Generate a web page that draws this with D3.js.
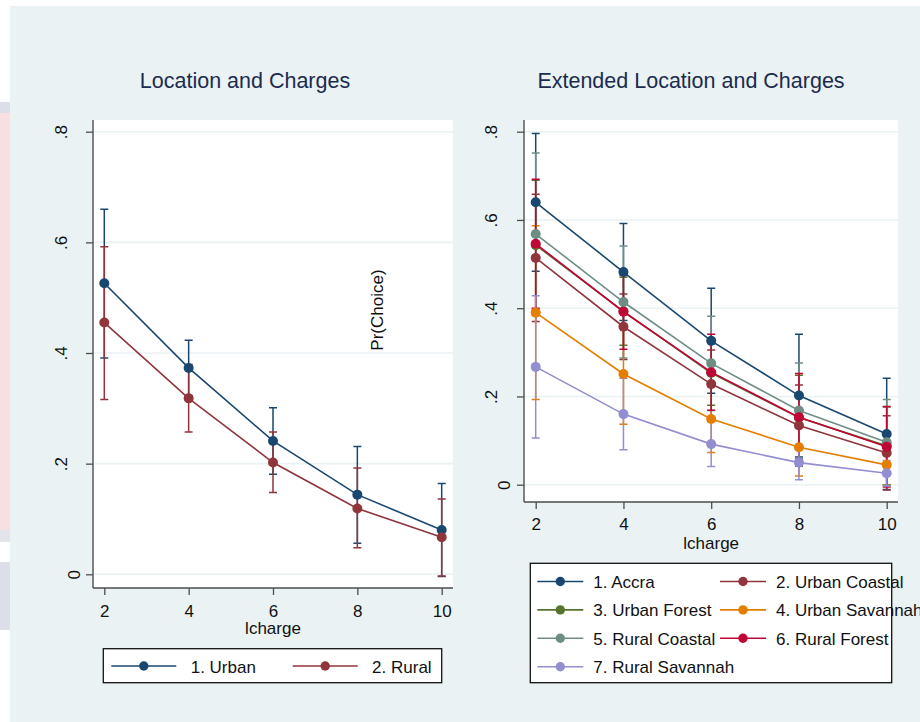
<!DOCTYPE html>
<html>
<head>
<meta charset="utf-8">
<script src="https://cdn.jsdelivr.net/npm/d3@7"></script>
<style>
  body { margin: 0; background: #fff; }
  svg { display: block; font-family: "Liberation Sans", Arial, sans-serif; }
</style>
</head>
<body>
<svg id="chart" width="920" height="722"></svg>
<script>
// x values (lcharge) shared by both panels
const charges = [2, 4, 6, 8, 10];
const yTicks = [0, 0.2, 0.4, 0.6, 0.8];
const yTickLabels = ['0', '.2', '.4', '.6', '.8'];

// Left panel: Location and Charges
const locNames = ['1. Urban', '2. Rural'];
const urbanMean = [0.526, 0.373, 0.241, 0.144, 0.080];
const urbanLo   = [0.391, 0.323, 0.181, 0.056, -0.004];
const urbanHi   = [0.660, 0.423, 0.301, 0.231, 0.164];
const ruralMean = [0.455, 0.318, 0.202, 0.119, 0.067];
const ruralLo   = [0.316, 0.257, 0.148, 0.048, -0.003];
const ruralHi   = [0.592, 0.379, 0.257, 0.192, 0.136];

// Right panel: Extended Location and Charges
const extNames = ['1. Accra', '2. Urban Coastal', '3. Urban Forest', '4. Urban Savannah',
                  '5. Rural Coastal', '6. Rural Forest', '7. Rural Savannah'];
const accraMean = [0.640, 0.482, 0.326, 0.202, 0.115];
const accraLo   = [0.484, 0.372, 0.207, 0.063, -0.011];
const accraHi   = [0.796, 0.592, 0.445, 0.341, 0.241];
const urbCoastMean = [0.514, 0.358, 0.228, 0.134, 0.072];
const urbCoastLo   = [0.370, 0.284, 0.151, 0.042, -0.012];
const urbCoastHi   = [0.658, 0.432, 0.305, 0.226, 0.156];
const urbForestMean = [0.543, 0.393, 0.253, 0.152, 0.088];
const urbForestLo   = [0.398, 0.316, 0.180, 0.056, 0.000];
const urbForestHi   = [0.690, 0.470, 0.326, 0.248, 0.176];
const urbSavMean = [0.390, 0.251, 0.149, 0.085, 0.045];
const urbSavLo   = [0.193, 0.137, 0.073, 0.020, 0.000];
const urbSavHi   = [0.587, 0.365, 0.225, 0.150, 0.090];
const rurCoastMean = [0.568, 0.414, 0.275, 0.168, 0.096];
const rurCoastLo   = [0.384, 0.287, 0.168, 0.060, -0.001];
const rurCoastHi   = [0.752, 0.541, 0.382, 0.276, 0.193];
const rurForestMean = [0.546, 0.392, 0.255, 0.153, 0.086];
const rurForestLo   = [0.400, 0.307, 0.169, 0.054, -0.005];
const rurForestHi   = [0.692, 0.474, 0.341, 0.252, 0.177];
const rurSavMean = [0.267, 0.160, 0.092, 0.050, 0.026];
const rurSavLo   = [0.106, 0.079, 0.041, 0.011, -0.003];
const rurSavHi   = [0.428, 0.241, 0.143, 0.089, 0.055];

// Stata s2color palette
const COLORS = ['#1a476f', '#90353b', '#55752f', '#e37e00', '#6e8e84', '#c10534', '#938dd2'];
const BG = '#eaf2f3';
const AXIS = '#4d4d4d';
const TITLE = '#1c2c50';

function makeSeries(names, means, los, his) {
  return names.map((name, i) => ({
    name,
    color: COLORS[i],
    points: charges.map((x, j) => ({ x, y: means[i][j], lo: los[i][j], hi: his[i][j] }))
  }));
}

const leftData = makeSeries(locNames,
  [urbanMean, ruralMean], [urbanLo, ruralLo], [urbanHi, ruralHi]);
const rightData = makeSeries(extNames,
  [accraMean, urbCoastMean, urbForestMean, urbSavMean, rurCoastMean, rurForestMean, rurSavMean],
  [accraLo, urbCoastLo, urbForestLo, urbSavLo, rurCoastLo, rurForestLo, rurSavLo],
  [accraHi, urbCoastHi, urbForestHi, urbSavHi, rurCoastHi, rurForestHi, rurSavHi]);

const svg = d3.select('#chart');

// screenshot edge leftovers + graph background
svg.append('rect').attr('x', 0).attr('y', 102).attr('width', 10).attr('height', 11).attr('fill', '#dcdfe8');
svg.append('rect').attr('x', 0).attr('y', 113).attr('width', 10).attr('height', 417).attr('fill', '#f8dfe1');
svg.append('rect').attr('x', 0).attr('y', 530).attr('width', 10).attr('height', 12).attr('fill', '#e3e4ea');
svg.append('rect').attr('x', 0).attr('y', 562).attr('width', 10).attr('height', 68).attr('fill', '#dcdfe8');
svg.append('rect').attr('x', 10).attr('y', 6).attr('width', 910).attr('height', 716).attr('fill', BG);

function drawPanel(cfg) {
  const g = svg.append('g');
  const { box } = cfg;
  const x = d3.scaleLinear().domain([2, 10]).range(cfg.xRange);
  const y = d3.scaleLinear().domain([0, 0.8]).range(cfg.yRange);

  // title
  g.append('text')
    .attr('x', cfg.titleX).attr('y', 88)
    .attr('text-anchor', 'middle')
    .attr('font-size', 21.5)
    .attr('fill', TITLE)
    .text(cfg.title);

  // plot region
  g.append('rect')
    .attr('x', box.left).attr('y', box.top)
    .attr('width', box.right - box.left).attr('height', box.bottom - box.top)
    .attr('fill', '#fff');

  // grid
  g.append('g').selectAll('line').data(yTicks).join('line')
    .attr('x1', box.left).attr('x2', box.right)
    .attr('y1', d => y(d)).attr('y2', d => y(d))
    .attr('stroke', BG).attr('stroke-width', 1.6);

  // y axis, vertical labels like Stata
  const yAxis = g.append('g')
    .attr('transform', `translate(${box.left},0)`)
    .call(d3.axisLeft(y).tickValues(yTicks).tickSize(7).tickFormat((d, i) => yTickLabels[i]));
  yAxis.select('.domain').remove();
  yAxis.selectAll('.tick line').attr('stroke', AXIS).attr('stroke-width', 1.3);
  yAxis.selectAll('.tick text')
    .attr('font-size', 17).attr('fill', '#111')
    .attr('font-family', '"Liberation Sans", Arial, sans-serif')
    .attr('text-anchor', 'middle')
    .attr('dy', null).attr('x', null)
    .attr('transform', (d, i) => {
      const lx = (yTickLabels[i] === '0' ? cfg.yLabelX0 : cfg.yLabelX) - box.left;
      return `translate(${lx},0) rotate(-90)`;
    });
  g.append('line')
    .attr('x1', box.left).attr('x2', box.left)
    .attr('y1', box.top).attr('y2', box.bottom)
    .attr('stroke', AXIS).attr('stroke-width', 1.4);

  // x axis
  const xAxis = g.append('g')
    .attr('transform', `translate(0,${box.bottom})`)
    .call(d3.axisBottom(x).tickValues(charges).tickSize(7).tickFormat(d3.format('d')));
  xAxis.select('.domain').remove();
  xAxis.selectAll('.tick line').attr('stroke', AXIS).attr('stroke-width', 1.3);
  xAxis.selectAll('.tick text')
    .attr('font-size', 17).attr('fill', '#111')
    .attr('font-family', '"Liberation Sans", Arial, sans-serif')
    .attr('dy', null).attr('y', cfg.xLabelBase - box.bottom);
  g.append('line')
    .attr('x1', box.left).attr('x2', box.right)
    .attr('y1', box.bottom).attr('y2', box.bottom)
    .attr('stroke', AXIS).attr('stroke-width', 1.4);

  g.append('text')
    .attr('x', x(6)).attr('y', cfg.xTitleBase)
    .attr('text-anchor', 'middle').attr('font-size', 17).attr('fill', '#111')
    .text('lcharge');

  // confidence intervals (all series first)
  const cap = 4;
  const ci = g.append('g').selectAll('g').data(cfg.data).join('g')
    .attr('stroke', d => d.color).attr('stroke-width', 1.5).attr('fill', 'none');
  ci.selectAll('path').data(d => d.points).join('path')
    .attr('d', p => {
      const cx = x(p.x), t = y(p.hi), b = y(p.lo);
      return `M${cx},${t}V${b}M${cx - cap},${t}H${cx + cap}M${cx - cap},${b}H${cx + cap}`;
    });

  // connected lines + markers
  const line = d3.line().x(p => x(p.x)).y(p => y(p.y));
  const ser = g.append('g').selectAll('g').data(cfg.data).join('g');
  ser.append('path')
    .attr('d', d => line(d.points))
    .attr('fill', 'none').attr('stroke', d => d.color).attr('stroke-width', 1.6);
  ser.each(function (d) {
    d3.select(this).selectAll('circle').data(d.points).join('circle')
      .attr('cx', p => x(p.x)).attr('cy', p => y(p.y))
      .attr('r', 5).attr('fill', d.color);
  });

  // legend
  const lg = cfg.legend;
  g.append('rect')
    .attr('x', lg.x).attr('y', lg.y).attr('width', lg.w).attr('height', lg.h)
    .attr('fill', '#fff').attr('stroke', '#111').attr('stroke-width', 1.3);
  const items = g.append('g').selectAll('g').data(cfg.data).join('g')
    .attr('transform', (d, i) => {
      const col = i % lg.cols, row = Math.floor(i / lg.cols);
      return `translate(${lg.colX[col]},${lg.rowY + row * lg.rowStep})`;
    });
  items.append('line')
    .attr('x1', 0).attr('x2', lg.lineLen)
    .attr('stroke', d => d.color).attr('stroke-width', 1.6);
  items.append('circle')
    .attr('cx', lg.lineLen / 2).attr('r', 4.7).attr('fill', d => d.color);
  items.append('text')
    .attr('x', lg.textGap).attr('y', 6.5)
    .attr('font-size', 17).attr('fill', '#111')
    .text(d => d.name);

  return g;
}

drawPanel({
  title: 'Location and Charges', titleX: 245,
  box: { left: 93, right: 453, top: 120, bottom: 588 },
  xRange: [104.3, 441.7], yRange: [574.3, 131.7],
  yLabelX: 67, yLabelX0: 80, xLabelBase: 617, xTitleBase: 634,
  data: leftData,
  legend: { x: 103.3, y: 648.7, w: 338.4, h: 34, cols: 2, colX: [111.3, 292.7],
            rowY: 666, rowStep: 0, lineLen: 65, textGap: 79.4 }
});

drawPanel({
  title: 'Extended Location and Charges', titleX: 691,
  box: { left: 524, right: 898, top: 120, bottom: 502 },
  xRange: [535.7, 886.7], yRange: [484.7, 131.7],
  yLabelX: 497, yLabelX0: 510, xLabelBase: 530, xTitleBase: 549,
  data: rightData,
  legend: { x: 530.3, y: 563.3, w: 361.4, h: 119.4, cols: 2, colX: [537.3, 720],
            rowY: 581.5, rowStep: 28.4, lineLen: 46, textGap: 56 }
});

// y-axis title, placed by Stata inside the left panel
svg.append('text')
  .attr('transform', 'translate(383,310) rotate(-90)')
  .attr('text-anchor', 'middle').attr('font-size', 17).attr('fill', '#111')
  .text('Pr(Choice)');
</script>
</body>
</html>
